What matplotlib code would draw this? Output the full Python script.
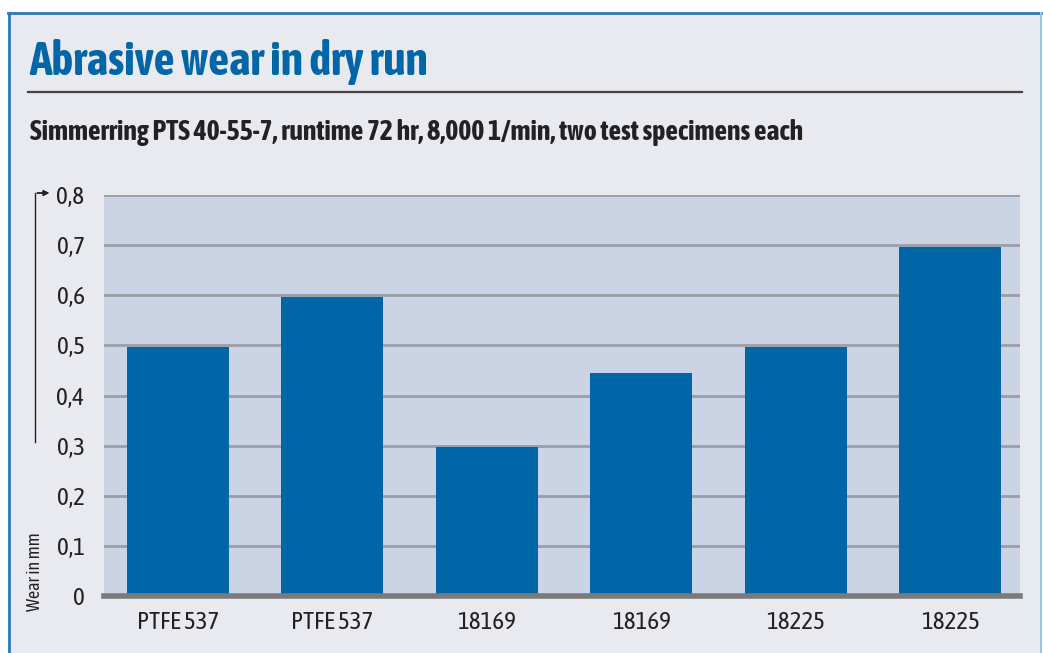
import numpy as np
import matplotlib.pyplot as plt
from matplotlib.patches import Rectangle
from matplotlib.lines import Line2D

# data
labels = ['PTFE 537', 'PTFE 537', '18169', '18169', '18225', '18225']
wear = [0.497, 0.597, 0.297, 0.445, 0.497, 0.697]
yticks = [0, 0.1, 0.2, 0.3, 0.4, 0.5, 0.6, 0.7, 0.8]
ytick_labels = ['0', '0,1', '0,2', '0,3', '0,4', '0,5', '0,6', '0,7', '0,8']

plt.rcParams['font.family'] = ['Asap Condensed', 'DejaVu Sans']

W, H = 1043, 653
fig = plt.figure(figsize=(W / 100, H / 100), dpi=100)
fig.patch.set_facecolor('white')

def fx(px):
    return px / W

def fy(py):
    return 1 - py / H

# panel background and border
fig.patches.append(Rectangle((fx(8), 0), fx(1041) - fx(8), fy(13), transform=fig.transFigure,
                             facecolor='#e9eaf0', edgecolor='none', zorder=-5))
fig.lines.append(Line2D([fx(8), fx(1041)], [fy(13), fy(13)], transform=fig.transFigure, color='#2a7ab8', lw=2))
fig.lines.append(Line2D([fx(9), fx(9)], [0, fy(13)], transform=fig.transFigure, color='#2a7ab8', lw=2))
fig.lines.append(Line2D([fx(1041), fx(1041)], [0, fy(13)], transform=fig.transFigure, color='#9cc3e0', lw=1.5))

# title and rule
fig.text(fx(29), fy(62), 'Abrasive wear in dry run', color='#0066a8', fontsize=33,
         fontweight='bold', va='center', ha='left')
fig.lines.append(Line2D([fx(28), fx(1022)], [fy(92), fy(92)], transform=fig.transFigure, color='#444444', lw=1.6))
fig.text(fx(30), fy(133), 'Simmerring PTS 40-55-7, runtime 72 hr, 8,000 1/min, two test specimens each',
         color='#222222', fontsize=20, fontweight='bold', va='center', ha='left')

# chart
ax = fig.add_axes([fx(104), fy(596), fx(1020) - fx(104), fy(195) - fy(596)])
ax.set_facecolor('#cbd4e4')
x = np.arange(len(labels))
ax.bar(x, wear, width=0.66, color='#0066a8', zorder=3)
ax.set_xlim(-0.477, 5.45)
ax.set_ylim(0, 0.8)
ax.set_yticks(yticks)
ax.set_yticklabels(ytick_labels)
ax.set_xticks(x)
ax.set_xticklabels(labels)
ax.grid(axis='y', color='#9a9ea8', lw=2, zorder=1)
ax.set_axisbelow(True)
for s in ax.spines.values():
    s.set_visible(False)
ax.axhline(0, color='#7a7a7a', lw=4, zorder=4, clip_on=False)
ax.tick_params(length=0, labelsize=18, colors='#222222')
ax.tick_params(axis='y', pad=14)
ax.tick_params(axis='x', pad=11)

# axis label with arrow
fig.text(fx(35), fy(572), 'Wear in mm', rotation=90, fontsize=13, color='#222222', va='center', ha='center')
fig.lines.append(Line2D([fx(35), fx(35)], [fy(442), fy(193)], transform=fig.transFigure, color='#222222', lw=1))
fig.add_artist(plt.annotate('', xy=(fx(52), fy(193)), xytext=(fx(34.5), fy(193)),
                            xycoords='figure fraction', textcoords='figure fraction',
                            arrowprops=dict(arrowstyle='-|>', color='#222222', lw=1, mutation_scale=8)))

fig.savefig('out.png', dpi=100, facecolor='white')
